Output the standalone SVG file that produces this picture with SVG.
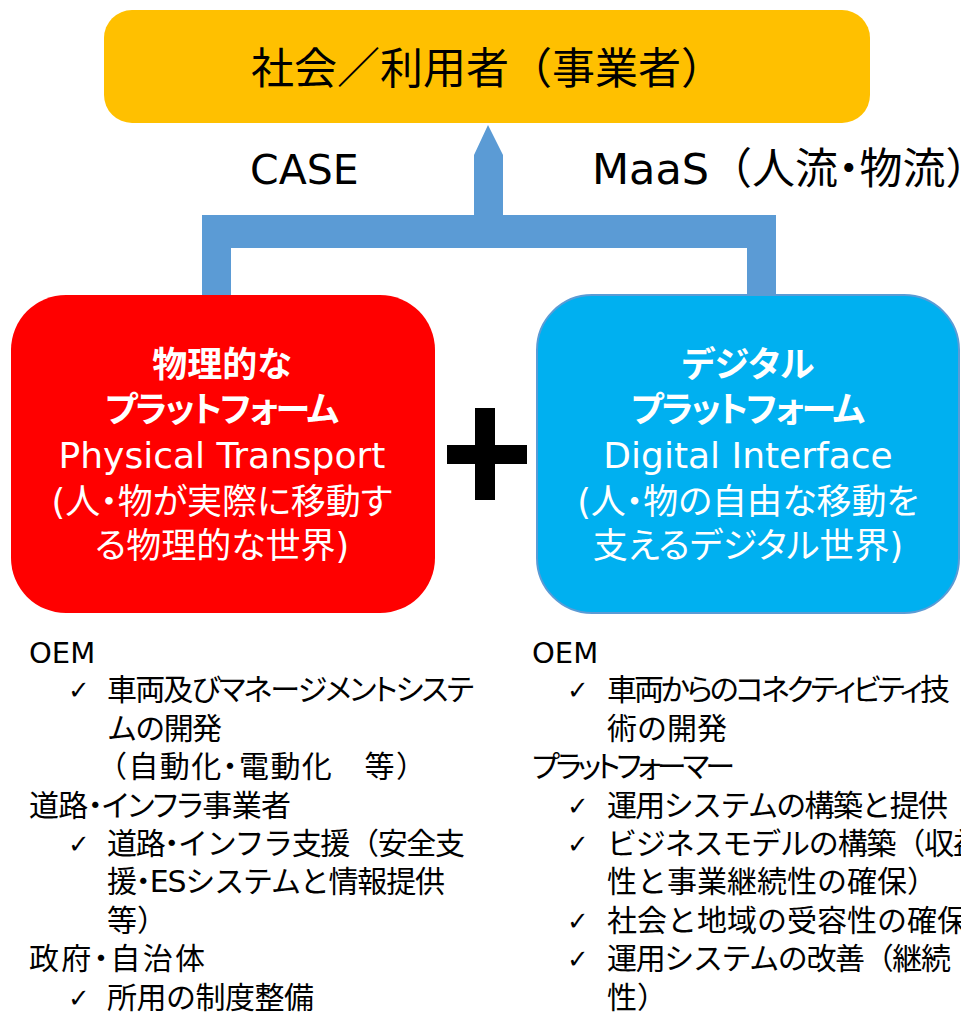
<svg xmlns="http://www.w3.org/2000/svg" width="961" height="1012" viewBox="0 0 961 1012">
<style>
text{font-family:"DejaVu Sans","Noto Sans CJK JP",sans-serif;}
.top{font-size:43px;fill:#000;}
.lbl{font-size:41px;fill:#000;}
.lbm{font-size:43px;fill:#000;}
.p{font-feature-settings:"palt";}
.bt{font-size:35px;fill:#fff;font-weight:bold;text-anchor:middle;font-feature-settings:"palt";}
.bl{font-size:36px;fill:#fff;text-anchor:middle;}
.bj{font-size:35px;fill:#fff;text-anchor:middle;font-feature-settings:"palt";}
.li{font-size:30px;fill:#000;}
.lo{font-size:29px;fill:#000;}
.ck{font-size:26px;fill:#000;font-family:"DejaVu Sans",sans-serif;}
</style>
<g id="connectors">
<polygon points="488,125 503,155 503,215 776,215 776,296 747,296 747,248 231,248 231,296 202,296 202,215 474,215 474,155" fill="#5B9BD5"/>
</g>
<g id="node-top">
<rect x="104" y="10" width="766" height="113" rx="28" ry="28" fill="#FFC000"/>
<text class="top" x="251" y="84">社会／利用者（事業者）</text>
</g>
<g id="label-case"><text class="lbl" x="250" y="184">CASE</text></g>
<g id="label-maas"><text class="lbm" x="592" y="184">MaaS（人流<tspan class="p">・</tspan>物流）</text></g>
<g id="node-physical">
<rect x="11" y="295" width="424" height="318" rx="55" ry="55" fill="#FF0000"/>
<text class="bt" x="222" y="377">物理的な</text>
<text class="bt" x="222" y="422" textLength="234" lengthAdjust="spacing">プラットフォーム</text>
<text class="bl" x="222" y="468">Physical Transport</text>
<text class="bj" x="222" y="514">(人・物が実際に移動す</text>
<text class="bj" x="222" y="558">る物理的な世界)</text>
</g>
<g id="plus">
<rect x="475" y="408" width="20" height="92" fill="#000"/>
<rect x="447" y="445" width="80" height="19" fill="#000"/>
</g>
<g id="node-digital">
<rect x="537" y="295" width="422" height="318" rx="55" ry="55" fill="#00B0F0" stroke="#5B9BD5" stroke-width="2"/>
<text class="bt" x="748" y="377">デジタル</text>
<text class="bt" x="748" y="422" textLength="234" lengthAdjust="spacing">プラットフォーム</text>
<text class="bl" x="748" y="468">Digital Interface</text>
<text class="bj" x="748" y="514">(人・物の自由な移動を</text>
<text class="bj" x="748" y="558">支えるデジタル世界)</text>
</g>
<g id="list-left">
<text class="lo" x="29" y="663">OEM</text>
<text class="ck" x="68" y="699">✓</text>
<text class="li p" x="107" y="700" textLength="367" lengthAdjust="spacing">車両及びマネージメントシステ</text>
<text class="li" x="107" y="739" textLength="115" lengthAdjust="spacing">ムの開発</text>
<text class="li" x="97" y="777" textLength="329" lengthAdjust="spacing">（自動化<tspan class="p">・</tspan>電動化　等）</text>
<text class="li p" x="29" y="816" textLength="262" lengthAdjust="spacing">道路・インフラ事業者</text>
<text class="ck" x="68" y="853">✓</text>
<text class="li" x="107" y="854" textLength="358" lengthAdjust="spacing">道路<tspan class="p">・</tspan>インフラ支援（安全支</text>
<text class="li" x="107" y="892" textLength="338" lengthAdjust="spacing">援<tspan class="p">・</tspan>ESシステムと情報提供</text>
<text class="li" x="107" y="931">等）</text>
<text class="li p" x="29" y="969" textLength="176" lengthAdjust="spacing">政府・自治体</text>
<text class="ck" x="68" y="1007">✓</text>
<text class="li" x="107" y="1008" textLength="207" lengthAdjust="spacing">所用の制度整備</text>
</g>
<g id="list-right">
<text class="lo" x="532" y="663">OEM</text>
<text class="ck" x="567" y="699">✓</text>
<text class="li p" x="607" y="700" textLength="343" lengthAdjust="spacing">車両からのコネクティビティ技</text>
<text class="li" x="607" y="739">術の開発</text>
<text class="li p" x="532" y="777" textLength="203" lengthAdjust="spacing">プラットフォーマー</text>
<text class="ck" x="567" y="815">✓</text>
<text class="li" x="607" y="816" textLength="341" lengthAdjust="spacing">運用システムの構築と提供</text>
<text class="ck" x="567" y="853">✓</text>
<text class="li" x="607" y="854" textLength="376" lengthAdjust="spacing">ビジネスモデルの構築（収益</text>
<text class="li" x="607" y="892">性と事業継続性の確保）</text>
<text class="ck" x="567" y="930">✓</text>
<text class="li" x="607" y="931">社会と地域の受容性の確保</text>
<text class="ck" x="567" y="968">✓</text>
<text class="li" x="607" y="969" textLength="344" lengthAdjust="spacing">運用システムの改善（継続</text>
<text class="li" x="607" y="1008">性）</text>
</g>
</svg>
